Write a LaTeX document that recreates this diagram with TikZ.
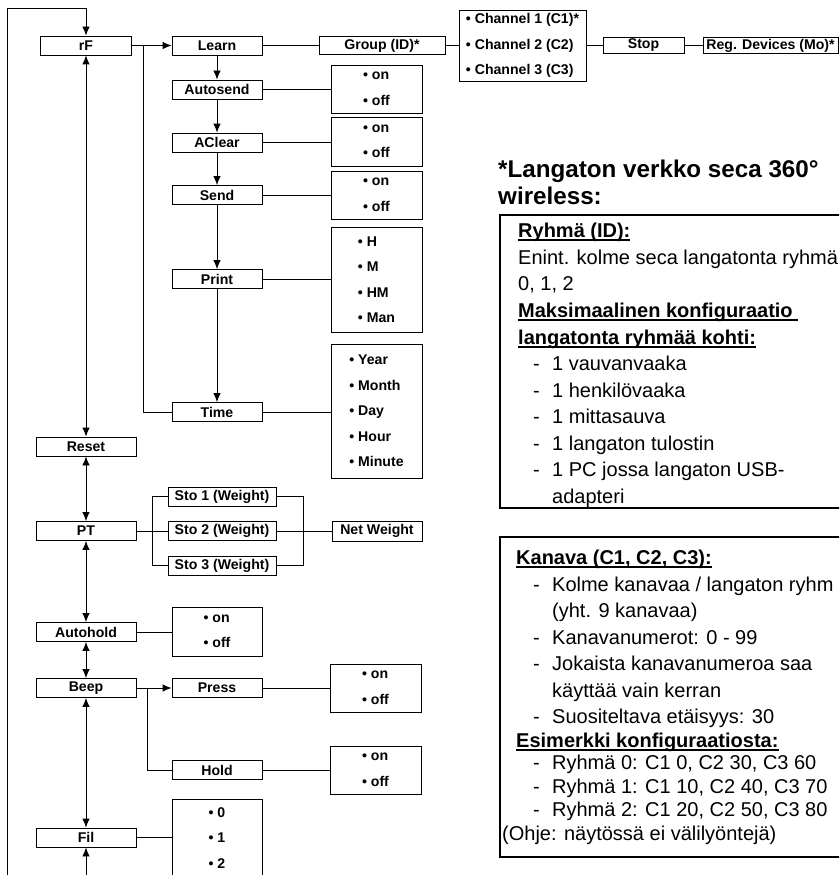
\documentclass[tikz,border=0pt]{standalone}
\usepackage{fontspec}
\setmainfont{Liberation Sans}
\usetikzlibrary{arrows.meta}

\newcommand\boxfont{\fontsize{14.1}{25.5}\selectfont\bfseries}
\newcommand\infofont{\fontsize{20}{26.6}\selectfont}
\newcommand\titlefont{\fontsize{24.2}{27}\selectfont\bfseries}
\newcommand\headul[1]{\setbox0\hbox{\bfseries #1}\rlap{\rule[-3.5pt]{\wd0}{1.7pt}}\box0}
\newcommand\opt[1]{\textbullet\ #1}
\newcommand\dashitem{\makebox[19pt][l]{-}}

\begin{document}
\begin{tikzpicture}[x=1pt,y=-1pt,
    menu/.style={draw,line width=0.9pt,font=\boxfont,inner sep=0pt,minimum width=90pt,minimum height=19pt},
    optbox/.style={draw,line width=0.9pt,font=\boxfont,align=left,inner sep=0pt,minimum width=91pt},
    link/.style={line width=0.9pt},
    arr/.style={link,-{Latex[length=9pt,width=7.5pt]}},
    dblarr/.style={link,{Latex[length=9pt,width=7.5pt]}-{Latex[length=9pt,width=7.5pt]}},
    infoline/.style={line width=2.4pt},
    info/.style={anchor=base west,inner sep=0pt,font=\infofont}]

\useasboundingbox (0,0) rectangle (839,875);
\clip (0,0) rectangle (839,875);

% main column
\node[menu,minimum width=91pt]  (rF)       at (86,45.5)  {rF};
\node[menu,minimum width=100pt] (reset)    at (86,446.5) {Reset};
\node[menu,minimum width=100pt] (pt)       at (86,531)   {PT};
\node[menu,minimum width=100pt] (autohold) at (86,632)   {Autohold};
\node[menu,minimum width=100pt] (beep)     at (86,688)   {Beep};
\node[menu,minimum width=100pt] (fil)      at (86,837.5) {Fil};

% rF submenu
\node[menu] (learn)    at (217,45.5)  {Learn};
\node[menu] (autosend) at (217,89.5)  {Autosend};
\node[menu] (aclear)   at (217,142.5) {AClear};
\node[menu] (send)     at (217,195)   {Send};
\node[menu] (print)    at (217,279)   {Print};
\node[menu] (time)     at (217,412)   {Time};

\node[menu,minimum width=126pt,minimum height=18pt] (group)  at (382,45.5)   {Group (ID)*};
\node[optbox,minimum width=127pt,minimum height=71pt] (chan) at (522.5,45.5)
  {\opt{Channel 1 (C1)*}\\\opt{Channel 2 (C2)}\\\opt{Channel 3 (C3)}};
\node[menu,minimum width=81pt,minimum height=16pt]  (stop)   at (643.5,45.5) {Stop};
\node[menu,minimum width=135pt,minimum height=16pt] (regdev) at (770.5,45.5) {Reg. Devices (Mo)*};

% option boxes
\node[optbox,minimum height=48pt]  (oAutosend) at (376.5,89)    {\opt{on}\\\opt{off}};
\node[optbox,minimum height=49pt]  (oAclear)   at (376.5,141.5) {\opt{on}\\\opt{off}};
\node[optbox,minimum height=48pt]  (oSend)     at (376.5,195)   {\opt{on}\\\opt{off}};
\node[optbox,minimum height=105pt] (oPrint)    at (376.5,279.5) {\opt{H}\\\opt{M}\\\opt{HM}\\\opt{Man}};
\node[optbox,minimum height=134pt] (oTime)     at (376.5,411)
  {\opt{Year}\\\opt{Month}\\\opt{Day}\\\opt{Hour}\\\opt{Minute}};

% PT submenu
\node[menu,minimum width=108pt] (sto1) at (222,496.5) {Sto 1 (Weight)};
\node[menu,minimum width=108pt] (sto2) at (222,531)   {Sto 2 (Weight)};
\node[menu,minimum width=108pt] (sto3) at (222,565.5) {Sto 3 (Weight)};
\node[menu,minimum height=20pt] (netw) at (377,531)   {Net Weight};

\node[optbox,minimum width=90pt,minimum height=49pt] (oAutohold) at (217,631.5) {\opt{on}\\\opt{off}};

% Beep submenu
\node[menu] (press) at (217,688) {Press};
\node[menu] (hold)  at (217,770) {Hold};
\node[optbox,minimum height=48pt] (oPress) at (375.5,688) {\opt{on}\\\opt{off}};
\node[optbox,minimum height=48pt] (oHold)  at (375.5,770) {\opt{on}\\\opt{off}};

\node[optbox,minimum width=90pt,minimum height=78pt] (oFil) at (217,838) {\opt{0}\\\opt{1}\\\opt{2}};

% connectors
\coordinate (looptop) at (7,8);
\coordinate (loopbot) at (7,880);
\coordinate (filbot)  at (86,880);
\draw[arr] (loopbot) -- (looptop) -| (rF.north);
\draw[arr] (filbot) -- (fil.south);
\foreach \a/\b in {rF/reset,reset/pt,pt/autohold,autohold/beep,beep/fil}
  \draw[dblarr] (\a) -- (\b);

\draw[arr] (rF) -- (learn);
\coordinate (tbranch) at ([xshift=11pt]rF.east);
\draw[link] (tbranch) |- (time.west);
\foreach \a/\b in {learn/autosend,autosend/aclear,aclear/send,send/print,print/time}
  \draw[arr] (\a) -- (\b);
\draw[link] (learn) -- (group) -- (chan) -- (stop) -- (regdev);

\foreach \m/\o in {autosend/oAutosend,aclear/oAclear,send/oSend,print/oPrint,time/oTime,
                   autohold/oAutohold,press/oPress,hold/oHold,fil/oFil}
  \draw[link] (\m.east) -- (\m.east -| \o.west);

\draw[link] (pt) -- (sto2);
\coordinate (stoin) at ([xshift=16pt]pt.east);
\draw[link] (sto1.west) -| (stoin) |- (sto3.west);
\coordinate (stoout) at ([xshift=27pt]sto2.east);
\draw[link] (sto1.east) -| (stoout) |- (sto3.east);
\draw[link] (sto2) -- (netw);

\draw[arr] (beep) -- (press);
\coordinate (hbranch) at ([xshift=11pt]beep.east);
\draw[link] (hbranch) |- (hold.west);

% notes on the right
\node[info,font=\titlefont] (title1) at (498,177) {*Langaton verkko seca 360°};
\node[info,font=\titlefont] (title2) at (498,204) {wireless:};

\draw[infoline] (870,215) -- (500,215) -- (500,508) -- (870,508);
\node[info] (ryhma) at (518,237) {\headul{Ryhmä (ID):}};
\node[info] (enint) at (518,264) {Enint. kolme seca langatonta ryhmä};
\node[info] (ids)   at (518,290) {0, 1, 2};
\node[info] (maks1) at (518,317) {\headul{Maksimaalinen konfiguraatio\ }};
\node[info] (maks2) at (518,344) {\headul{langatonta ryhmää kohti:}};
\foreach \y/\t [count=\i] in {370/1 vauvanvaaka,397/1 henkilövaaka,423/1 mittasauva,
                              450/1 langaton tulostin,476/1 PC jossa langaton USB-}
  \node[info] (dev\i) at (533,\y) {\dashitem\t};
\node[info] (dev5b) at (552,503) {adapteri};

\draw[infoline] (870,537) -- (500,537) -- (500,857) -- (870,857);
\node[info] (kanava) at (516,564) {\headul{Kanava (C1, C2, C3):}};
\node[info] (kan1)  at (533,591) {\dashitem Kolme kanavaa / langaton ryhm};
\node[info] (kan1b) at (552,617) {(yht. 9 kanavaa)};
\node[info] (kan2)  at (533,644) {\dashitem Kanavanumerot: 0 - 99};
\node[info] (kan3)  at (533,670) {\dashitem Jokaista kanavanumeroa saa};
\node[info] (kan3b) at (552,697) {käyttää vain kerran};
\node[info] (kan4)  at (533,723) {\dashitem Suositeltava etäisyys: 30};
\node[info] (esim)  at (516,747) {\headul{Esimerkki konfiguraatiosta:}};
\node[info] (esim0) at (533,769) {\dashitem Ryhmä 0: C1 0, C2 30, C3 60};
\node[info] (esim1) at (533,793) {\dashitem Ryhmä 1: C1 10, C2 40, C3 70};
\node[info] (esim2) at (533,816) {\dashitem Ryhmä 2: C1 20, C2 50, C3 80};
\node[info] (ohje)  at (502,840) {(Ohje: näytössä ei välilyöntejä)};

\end{tikzpicture}
\end{document}
